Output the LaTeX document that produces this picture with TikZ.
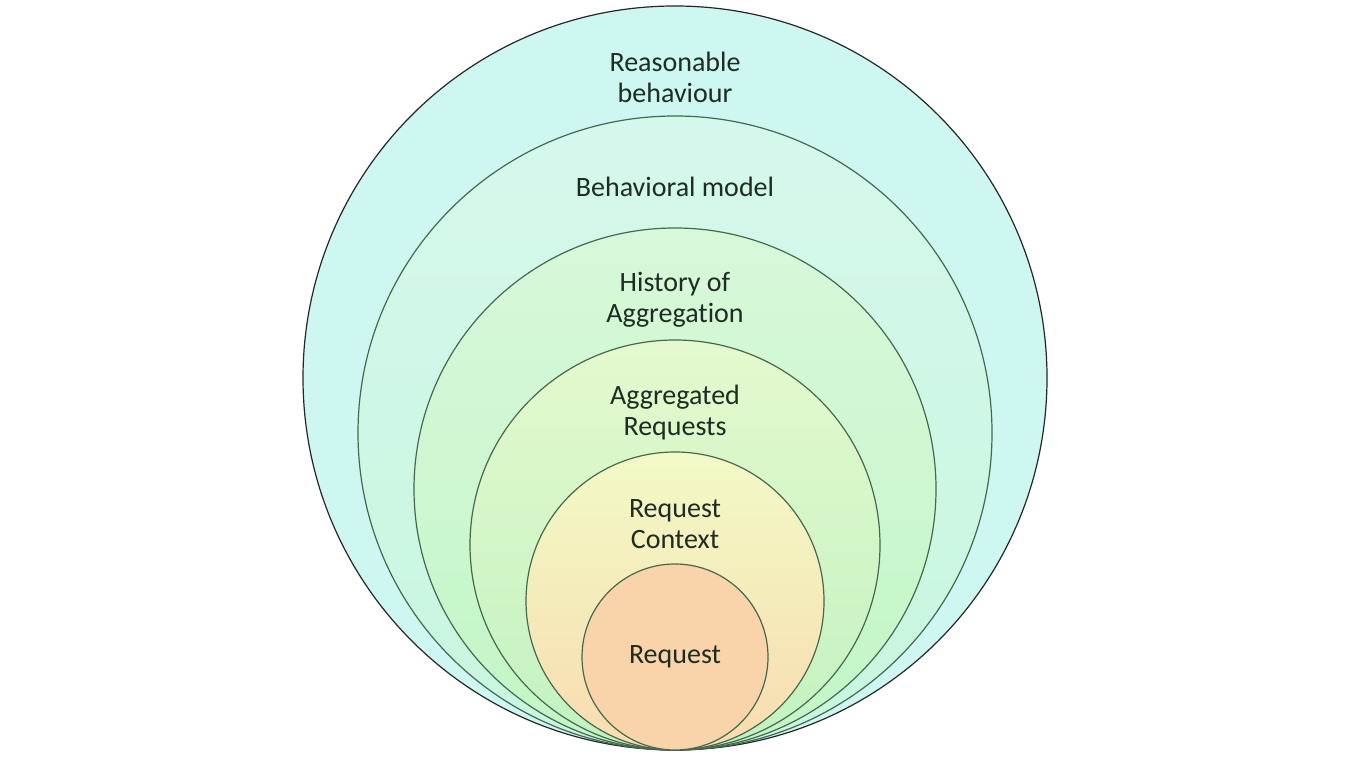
\documentclass[tikz,border=0pt]{standalone}
\usepackage{fontspec}
\setmainfont{Carlito}[Ligatures=NoCommon]
\usetikzlibrary{positioning}
\definecolor{ringLine}{RGB}{70,104,78}
\definecolor{labelInk}{RGB}{30,44,34}
\definecolor{ringCyan}{RGB}{206,247,242}
\definecolor{ringCyanTop}{RGB}{213,248,236}
\definecolor{ringCyanLow}{RGB}{200,246,222}
\definecolor{ringMintTop}{RGB}{216,248,218}
\definecolor{ringMintLow}{RGB}{194,246,198}
\definecolor{ringLimeTop}{RGB}{228,249,206}
\definecolor{ringLimeLow}{RGB}{194,242,192}
\definecolor{ringSandTop}{RGB}{242,250,198}
\definecolor{ringSandLow}{RGB}{248,220,176}
\definecolor{ringPeach}{RGB}{249,211,169}

\begin{document}
\begin{tikzpicture}[x=0.5pt,y=0.5pt,
  ring/.style={circle,draw=ringLine,line width=0.6pt,inner sep=0pt},
  ringtext/.style={align=center,text=labelInk,font=\fontsize{14}{15.5}\selectfont}]
\useasboundingbox (0,0) rectangle (1352,760);
% nested circles, all touching at the bottom
\node[ring,draw=black!85,minimum size=372pt,fill=ringCyan] (reasonable) at (675,382) {};
\node[ring,minimum size=317pt,top color=ringCyanTop,bottom color=ringCyanLow] (behavioral) at (675,327) {};
\node[ring,minimum size=261pt,top color=ringMintTop,bottom color=ringMintLow] (history) at (675,271) {};
\node[ring,minimum size=205pt,top color=ringLimeTop,bottom color=ringLimeLow] (aggregated) at (675,215) {};
\node[ring,minimum size=149pt,top color=ringSandTop,bottom color=ringSandLow] (context) at (675,159) {};
\node[ring,minimum size=93pt,fill=ringPeach] (request) at (675,103) {};

% labels
\node[ringtext] (reasonableText) at ([yshift=-36pt]reasonable.north) {Reasonable\\behaviour};
\node[ringtext] (behavioralText) at ([yshift=-35.5pt]behavioral.north) {Behavioral model};
\node[ringtext] (historyText) at ([yshift=-36pt]history.north) {History of\\Aggregation};
\node[ringtext] (aggregatedText) at ([yshift=-36.5pt]aggregated.north) {Aggregated\\Requests};
\node[ringtext] (contextText) at ([yshift=-36.5pt]context.north) {Request\\Context};
\node[ringtext] (requestText) at ([yshift=0pt]request.center) {Request};
\end{tikzpicture}
\end{document}
